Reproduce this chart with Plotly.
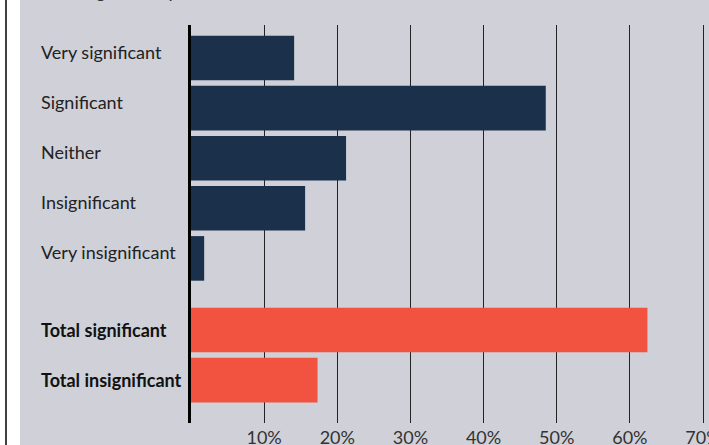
import plotly.graph_objects as go

# Data
categories = ["Very significant", "Significant", "Neither", "Insignificant", "Very insignificant"]
values = [14.1, 48.5, 21.2, 15.6, 1.8]
total_categories = ["Total significant", "Total insignificant"]
total_values = [62.4, 17.3]
tick_values = [10, 20, 30, 40, 50, 60, 70]
tick_labels = ["10%", "20%", "30%", "40%", "50%", "60%", "70%"]
subtitle = "are a significant problem for their business"

W, H = 709, 445
ML, MR, MT, MB = 191, 4, 25, 22
PW = W - ML - MR
PH = H - MT - MB

GAP = 1.43
pos_main = list(range(len(categories)))
pos_total = [len(categories) - 1 + GAP + j for j in range(len(total_categories))]

BG = "#CFD0D8"
NAVY = "#1A304B"
RED = "#F25240"
FONT = "Lato"

fig = go.Figure()
fig.add_trace(go.Bar(x=values, y=pos_main, orientation="h", marker=dict(color=NAVY, line=dict(width=0)),
                     width=0.89, hoverinfo="skip"))
fig.add_trace(go.Bar(x=total_values, y=pos_total, orientation="h", marker=dict(color=RED, line=dict(width=0)),
                     width=0.89, hoverinfo="skip"))

annotations = []
lx = (40 - ML) / PW
for c, p in zip(categories, pos_main):
    annotations.append(dict(x=lx, xref="paper", y=p, yref="y", text=c, showarrow=False,
                            xanchor="left", yanchor="middle", yshift=6, xshift=-1,
                            font=dict(family=FONT, size=18, color="#222222")))
for c, p in zip(total_categories, pos_total):
    annotations.append(dict(x=lx, xref="paper", y=p, yref="y", text="<b>" + c + "</b>", showarrow=False,
                            xanchor="left", yanchor="middle", xshift=-1,
                            font=dict(family=FONT, size=18, color="#111111")))
annotations.append(dict(x=lx, xref="paper", y=1 + (MT - 4) / PH, yref="paper", text=subtitle,
                        showarrow=False, xanchor="left", yanchor="bottom", xshift=-1,
                        font=dict(family=FONT, size=18, color="#333333")))

px_per_unit = 50.1
y_top = -(58 - MT) / px_per_unit
y_bot = (H - MB - 58) / px_per_unit

shapes = [
    dict(type="rect", xref="paper", yref="paper", x0=(0 - ML) / PW, x1=(20 - ML) / PW,
         y0=-MB / PH - 0.05, y1=1 + MT / PH + 0.05, fillcolor="white", line=dict(width=0), layer="above"),
    dict(type="line", xref="paper", yref="paper", x0=(6 - ML) / PW, x1=(6 - ML) / PW,
         y0=-MB / PH - 0.05, y1=1 + MT / PH + 0.05, line=dict(color="black", width=1.5), layer="above"),
]

fig.update_layout(
    width=W, height=H,
    margin=dict(l=ML, r=MR, t=MT, b=MB, pad=0, autoexpand=False),
    paper_bgcolor=BG, plot_bgcolor=BG,
    showlegend=False, barmode="overlay",
    annotations=annotations, shapes=shapes,
    xaxis=dict(range=[0, 70.27], tickvals=tick_values, ticktext=tick_labels, showgrid=True,
               gridcolor="#222222", gridwidth=1, zeroline=False, showline=False, ticks="",
               tickfont=dict(family=FONT, size=18, color="#333333"), ticklabelstandoff=2,
               automargin=False, ticklabeloverflow="allow"),
    yaxis=dict(range=[y_bot, y_top], showticklabels=False, showgrid=False, zeroline=False,
               showline=True, linecolor="black", linewidth=2.5, ticks="", automargin=False),
)

fig.write_html("out.html", config={"displayModeBar": False},
               post_script="document.body.style.margin='0';document.body.style.overflow='hidden';")
